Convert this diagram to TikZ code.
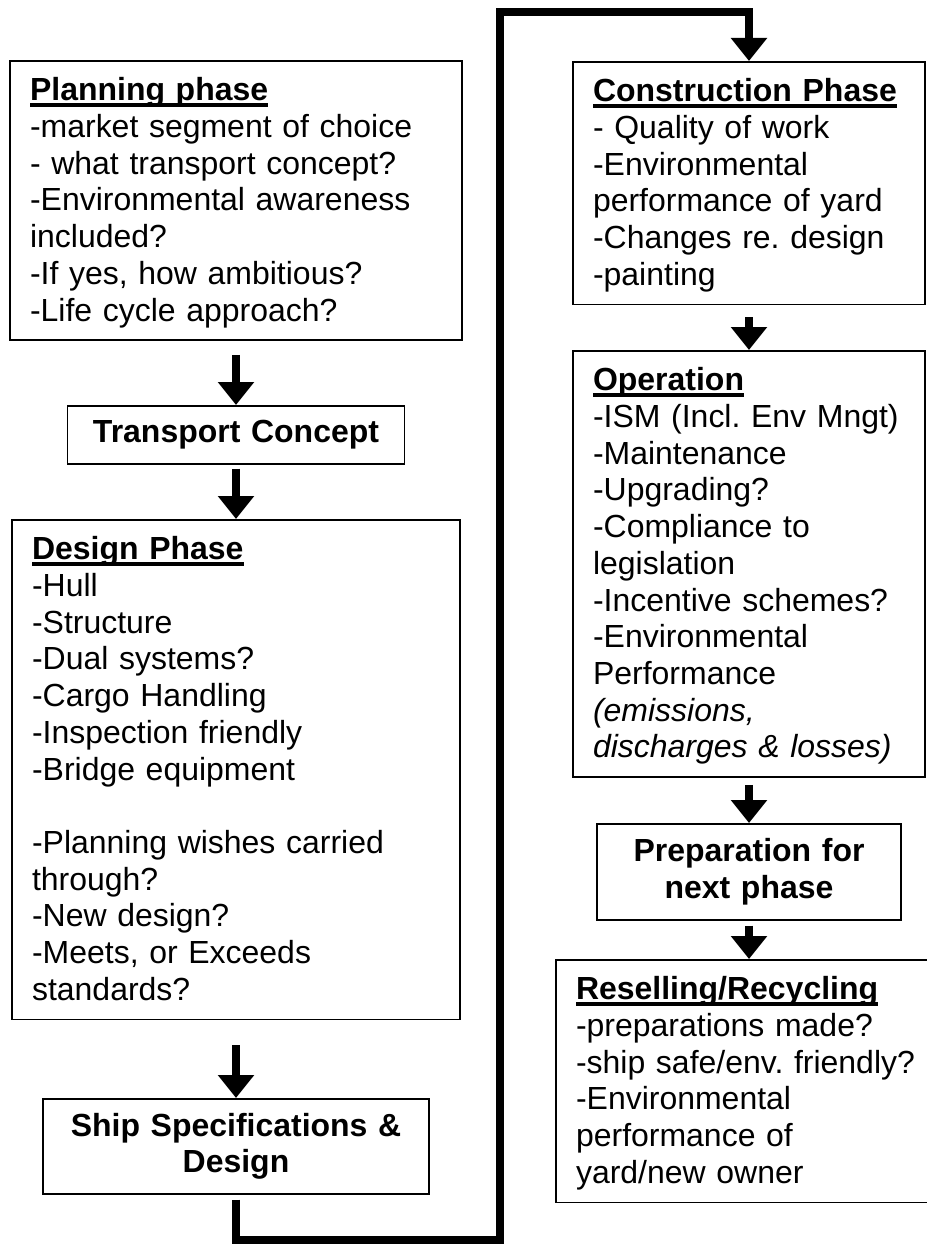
\documentclass[tikz,border=0pt]{standalone}
\usepackage{fontspec}
\setmainfont{Liberation Sans}
\usepackage{tikz}
\usetikzlibrary{arrows.meta}
\frenchspacing

\newsavebox{\titlebox}
\newcommand{\upstrut}{\rule{0pt}{0.8cm}}
\newcommand{\downstrut}{\rule[-0.38cm]{0pt}{0.38cm}}
\newcommand{\phasetitle}[1]{\sbox{\titlebox}{\textbf{#1}}\usebox{\titlebox}\llap{\rule[-3.4pt]{\wd\titlebox}{2pt}}}

\tikzset{
  phase/.style={draw, rectangle, line width=0.9pt, anchor=north, align=left,
    inner xsep=0.4cm, inner ysep=0pt, font=\fontsize{18.2pt}{20.9pt}\selectfont},
  stage/.style={draw, rectangle, line width=0.9pt, anchor=north, align=center,
    inner xsep=0.4cm, inner ysep=0pt, font=\fontsize{18.2pt}{21pt}\selectfont\bfseries},
  flow/.style={-{Triangle[length=0.46cm,width=0.7cm]}, line width=0.15cm}
}

\begin{document}
\begin{tikzpicture}[x=0.02cm, y=-0.02cm]
                \useasboundingbox (0,0) rectangle (926,1246);
                \node[phase, text width=8.24cm] (plan) at (236,60) {\upstrut\phasetitle{Planning phase}\\
                  -market segment of choice\\
                  - what transport concept?\\
                  -Environmental awareness\\
                  included?\\
                  -If yes, how ambitious?\\
                  -Life cycle approach?\downstrut};
                \node[stage, text width=5.94cm, minimum height=1.16cm] (trans) at (236,405) {Transport Concept};
                \node[phase, text width=8.16cm] (design) at (236,519) {\upstrut\phasetitle{Design Phase}\\
                  -Hull\\
                  -Structure\\
                  -Dual systems?\\
                  -Cargo Handling\\
                  -Inspection friendly\\
                  -Bridge equipment\\
                  \mbox{}\\
                  -Planning wishes carried\\
                  through?\\
                  -New design?\\
                  -Meets, or Exceeds\\
                  standards?\downstrut};
                \node[stage, text width=6.92cm, minimum height=1.9cm] (spec) at (236,1098) {Ship Specifications \&\\ Design};
                \node[phase, text width=6.24cm] (build) at (749,61) {\upstrut\phasetitle{Construction Phase}\\
                  - Quality of work\\
                  -Environmental\\
                  performance of yard\\
                  -Changes re. design\\
                  -painting\downstrut};
                \node[phase, text width=6.24cm] (oper) at (749,350) {\upstrut\phasetitle{Operation}\\
                  -ISM (Incl. Env Mngt)\\
                  -Maintenance\\
                  -Upgrading?\\
                  -Compliance to\\
                  legislation\\
                  -Incentive schemes?\\
                  -Environmental\\
                  Performance\\
                  \textit{(emissions,}\\
                  \textit{discharges \& losses)}\downstrut};
                \node[stage, text width=5.28cm, minimum height=1.92cm] (prep) at (749,823) {Preparation for\\ next phase};
                \node[phase, text width=6.92cm] (resell) at (749,959) {\upstrut\phasetitle{Reselling/Recycling}\\
                  -preparations made?\\
                  -ship safe/env. friendly?\\
                  -Environmental\\
                  performance of\\
                  yard/new owner\downstrut};
                \coordinate (low) at (500,1240);
                \coordinate (high) at (500,12);
                \draw[flow, shorten <=0.28cm] (plan) -- (trans);
                \draw[flow, shorten <=0.08cm] (trans) -- (design);
                \draw[flow, shorten <=0.5cm] (design) -- (spec);
                \draw[flow, shorten <=0.1cm] (spec) |- (low) -- (high) -| (build);
                \draw[flow, shorten <=0.24cm] (build) -- (oper);
                \draw[flow, shorten <=0.14cm] (oper) -- (prep);
                \draw[flow, shorten <=0.1cm] (prep) -- (resell);
            \end{tikzpicture}
\end{document}
